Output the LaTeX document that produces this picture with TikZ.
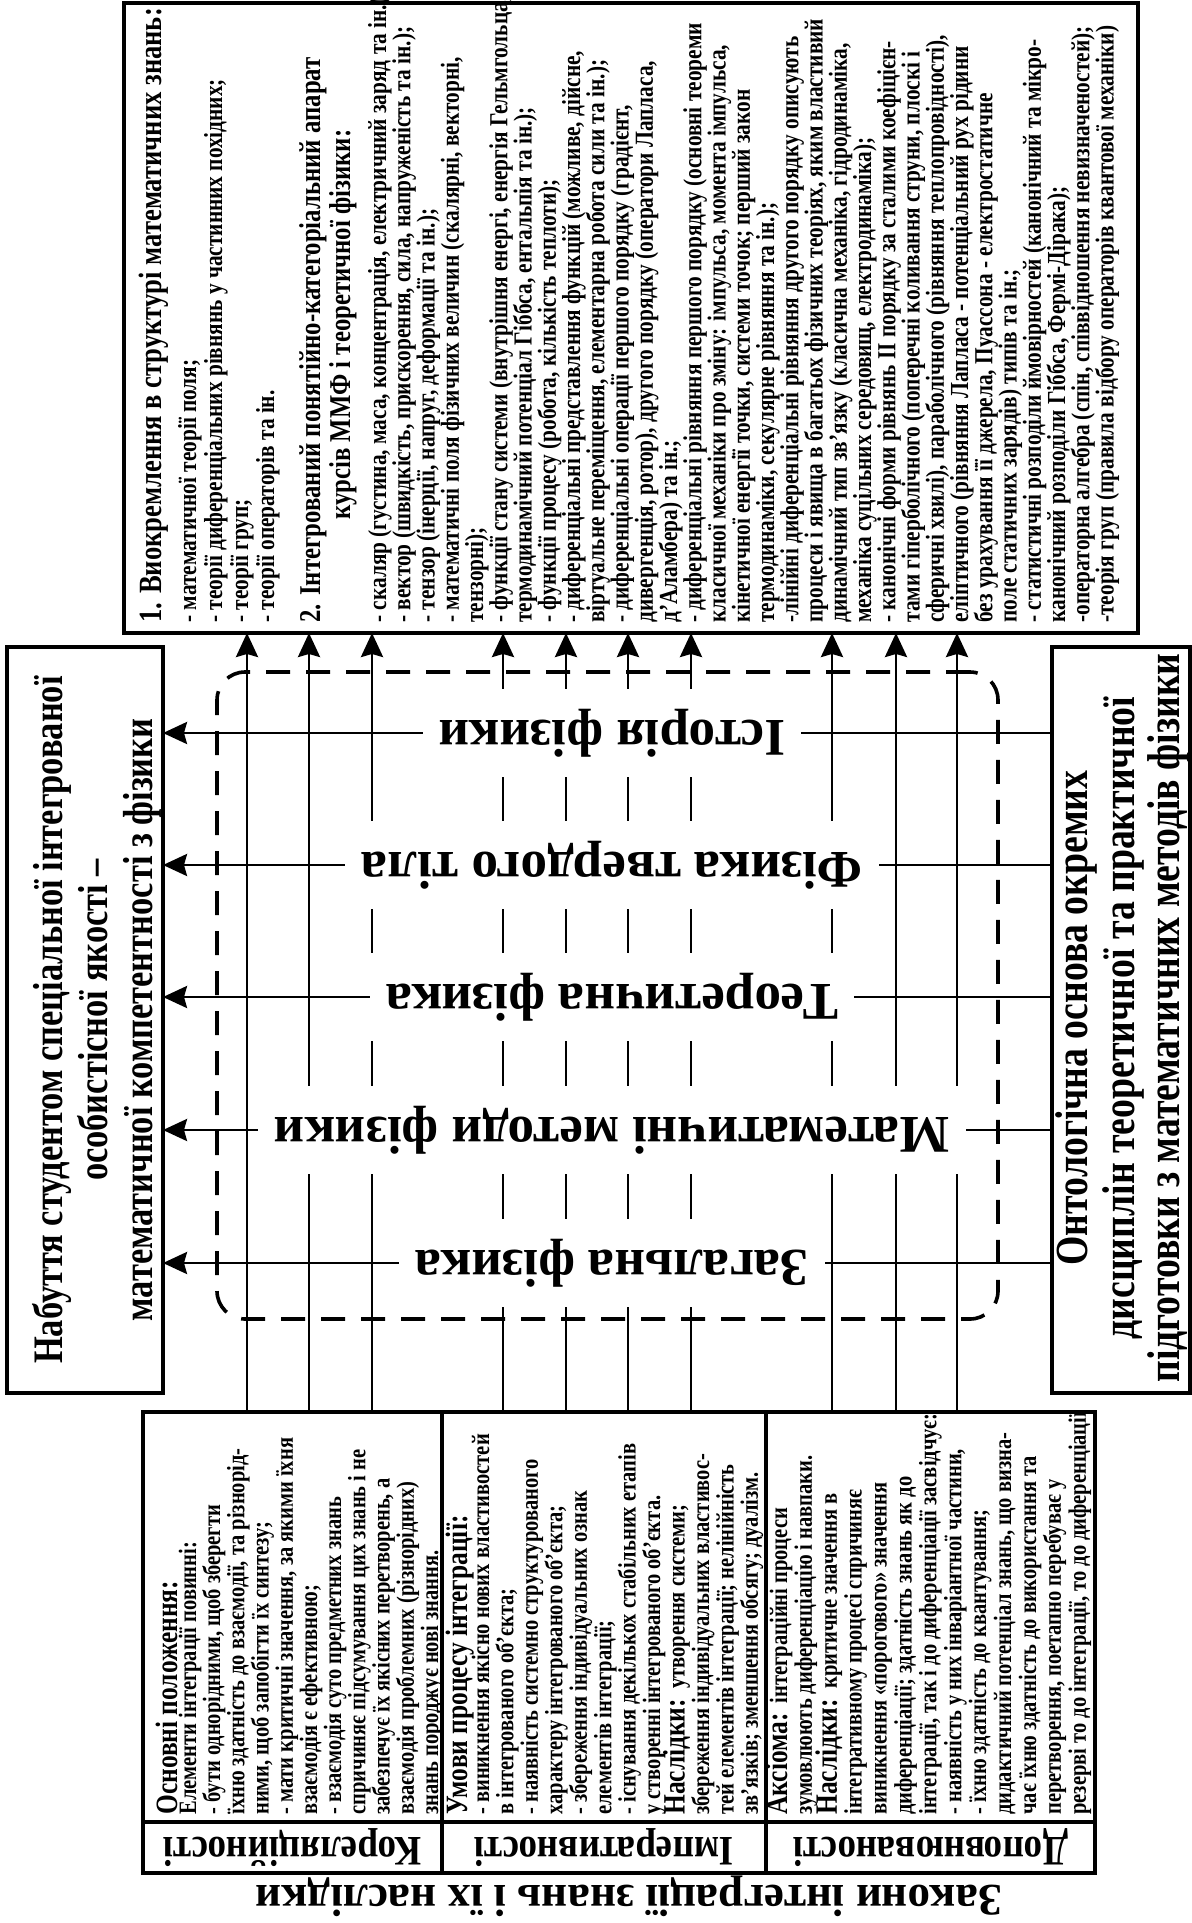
\documentclass[tikz,border=0pt]{standalone}
\usepackage{fontspec}
\setmainfont{Liberation Serif}
\newfontfamily\rotf{Liberation Serif}[FakeStretch=0.82]
\newfontfamily\labf{Liberation Serif}[FakeStretch=0.88]
\usetikzlibrary{arrows.meta,fit}
\newcommand\bigw[1]{{\fontsize{15.5}{15.5}\selectfont #1}}
\begin{document}
\begin{tikzpicture}[x=0.5pt,y=-0.5pt,
  box/.style={draw, line width=2pt, inner sep=0pt, outer sep=0pt},
  tline/.style={line width=1.8pt},
  arr/.style={line width=1.4pt, -{Stealth[length=12pt,width=11pt,inset=1.5pt]}},
  dsh/.style={draw, line width=1.8pt, dash pattern=on 12pt off 8pt, rounded corners=14pt, inner sep=0pt, outer sep=0pt},
  sm/.style={rotate=90, anchor=base west, inner sep=0pt, font=\rotf\bfseries\fontsize{12.5}{12.5}\selectfont},
  smt/.style={rotate=90, anchor=base west, inner sep=0pt, font=\rotf\bfseries\fontsize{13}{13}\selectfont},
  hda/.style={rotate=90, anchor=base west, inner sep=0pt, font=\rotf\bfseries\fontsize{16.2}{16.2}\selectfont},
  hdt/.style={rotate=90, anchor=base west, inner sep=0pt, font=\rotf\bfseries\fontsize{15.1}{15.1}\selectfont},
  hdc/.style={rotate=90, anchor=base west, inner sep=0pt, font=\rotf\bfseries\fontsize{15.5}{15.5}\selectfont},
  nabt/.style={rotate=90, anchor=base, inner sep=0pt, font=\rotf\bfseries\fontsize{21}{21}\selectfont},
  ontt/.style={rotate=90, anchor=base, inner sep=0pt, font=\rotf\bfseries\fontsize{23}{23}\selectfont},
  lab/.style={rotate=180, inner sep=0pt, font=\labf\bfseries\fontsize{21}{21}\selectfont},
  ctr/.style={rotate=180, fill=white, inner xsep=8pt, inner ysep=10pt, font=\bfseries\fontsize{26.5}{26.5}\selectfont},
  captxt/.style={rotate=180, inner sep=0pt, font=\bfseries\fontsize{22.5}{22.5}\selectfont}
]
\fill[white] (0,0) rectangle (1192,1923);
\useasboundingbox (0,0) rectangle (1192,1923);

% boxes
\node[box, fit={(124,3) (1138,633)}] (top) {};
\node[box, fit={(7,647) (163,1393)}] (nab) {};
\node[box, fit={(1052,647) (1190,1393)}] (ont) {};
\node[box, fit={(143,1412) (1095,1873)}] (tbl) {};
\node[dsh, fit={(217,672) (998,1319)}] (frame) {};

% table dividers
\coordinate (d1) at (442,0);
\coordinate (d2) at (766,0);
\coordinate (hs) at (0,1822);
\draw[tline] (tbl.north -| d1) -- (tbl.south -| d1);
\draw[tline] (tbl.north -| d2) -- (tbl.south -| d2);
\draw[tline] (tbl.west |- hs) -- (tbl.east |- hs);

% vertical arrows
\foreach \xx [count=\k] in {247,309,372,503,566,628,691,832,896,957} {
  \coordinate (va\k) at (\xx,0);
  \draw[arr] (tbl.north -| va\k) -- (top.south -| va\k);
}
% horizontal arrows
\foreach \yy [count=\k] in {733,865,997,1130,1263} {
  \coordinate (ha\k) at (0,\yy);
  \draw[arr] (ont.west |- ha\k) -- (nab.east |- ha\k);
}

% centre labels
\node[ctr] (l1) at (612,733) {Історія фізики};
\node[ctr] (l2) at (612,865) {Фізика твердого тіла};
\node[ctr] (l3) at (612,997) {Теоретична фізика};
\node[ctr] (l4) at (612,1130) {Математичні методи фізики};
\node[ctr] (l5) at (612,1263) {Загальна фізика};

% left box
\node[nabt] (n1) at (62,1020) {Набуття студентом спеціальної інтегрованої};
\node[nabt] (n2) at (107,1020) {особистісної якості –};
\node[nabt] (n3) at (152,1020) {математичної компетентності з фізики};

% right box
\node[ontt] (o1) at (1087,1018) {Онтологічна основа окремих};
\node[ontt] (o2) at (1134,1018) {дисциплін теоретичної та практичної};
\node[ontt] (o3) at (1179,1018) {підготовки з математичних методів фізики};

% top box text
\node[hda] (h1) at (161,623) {1. Виокремлення в структурі математичних знань:};
\foreach \t [count=\i] in {
  {- математичної теорії поля;},
  {- теорії диференціальних рівнянь у частинних похідних;},
  {- теорії груп;},
  {- теорії операторів та ін.}} {
  \node[smt] (a\i) at ({196+(\i-1)*26},623) {\t};
}
\node[hdt] (h2) at (320,623) {2. Інтегрований понятійно-категоріальний апарат};
\node[hdt] (h2b) at (350,520) {курсів ММФ і теоретичної фізики:};
\foreach \t [count=\i] in {
  {- скаляр (густина, маса, концентрація, електричний заряд та ін.)},
  {- вектор (швидкість, прискорення, сила, напруженість та ін.);},
  {- тензор (інерції, напруг, деформації та ін.);},
  {- математичні поля фізичних величин (скалярні, векторні,},
  {тензорні);},
  {- функції стану системи (внутрішня енергі, енергія Гельмгольца,},
  {термодинамічний потенціал Гіббса, ентальпія та ін.);},
  {- функції процесу (робота, кількість теплоти);},
  {- диференціальні представлення функцій (можливе, дійсне,},
  {віртуальне переміщення, елементарна робота сили та ін.);},
  {- диференціальні операції першого порядку (градієнт,},
  {дивергенція, ротор), другого порядку (оператори Лапласа,},
  {д’Аламбера) та ін.;},
  {- диференціальні рівняння першого порядку (основні теореми},
  {класичної механіки про зміну: імпульса, момента імпульса,},
  {кінетичної енергії точки, системи точок; перший закон},
  {термодинаміки, секулярне рівняння та ін.);},
  {-лінійні диференціальні рівняння другого порядку описують},
  {процеси і явища в багатьох фізичних теоріях, яким властивий},
  {динамічний тип зв’язку (класична механіка, гідродинаміка,},
  {механіка суцільних середовищ, електродинаміка);},
  {- канонічні форми рівнянь II порядку за сталими коефіцієн-},
  {тами гіперболічного (поперечні коливання струни, плоскі і},
  {сферичні хвилі), параболічного (рівняння теплопровідності),},
  {еліптичного (рівняння Лапласа - потенціальний рух рідини},
  {без урахування її джерела, Пуассона - електростатичне},
  {поле статичних зарядів) типів та ін.;},
  {- статистичні розподіли ймовірностей (канонічний та мікро-},
  {канонічний розподіли Гіббса, Фермі-Дірака);},
  {-операторна алгебра (спін, співвідношення невизначеностей);},
  {-теорія груп (правила відбору операторів квантової механіки)}} {
  \node[smt] (b\i) at ({386+(\i-1)*24.25},623) {\t};
}

% table: correlation
\node[hdc] (kh) at (177,1815) {Основні положення:};
\foreach \t [count=\i] in {
  {Елементи інтеграції повинні:},
  {- бути однорідними, щоб зберегти},
  {їхню здатність до взаємодії, та різнорід-},
  {ними, щоб запобігти їх синтезу;},
  {- мати критичні значення, за якими їхня},
  {взаємодія є ефективною;},
  {- взаємодія суто предметних знань},
  {спричиняє підсумування цих знань і не},
  {забезпечує їх якісних перетворень, а},
  {взаємодія проблемних (різнорідних)},
  {знань породжує нові знання.}} {
  \node[sm] (k\i) at ({196+(\i-1)*24.2},1815) {\t};
}
% table: imperative
\node[hdc] (mh) at (467,1815) {Умови процесу інтеграції:};
\foreach \t [count=\i] in {
  {- виникнення якісно нових властивостей},
  {в інтегрованого об’єкта;},
  {- наявність системно структурованого},
  {характеру інтегрованого об’єкта;},
  {- збереження індивідуальних ознак},
  {елементів інтеграції;},
  {- існування декількох стабільних етапів},
  {у створенні інтегрованого об’єкта.},
  {\bigw{Наслідки:}\ \ утворення системи;},
  {збереження індивідуальних властивос-},
  {тей елементів інтеграції; нелінійність},
  {зв’язків; зменшення обсягу; дуалізм.}} {
  \node[sm] (m\i) at ({489+(\i-1)*24.45},1815) {\t};
}
% table: complementarity
\foreach \t [count=\i] in {
  {\bigw{Аксіома:}\ \ інтеграційні процеси},
  {зумовлюють диференціацію і навпаки.},
  {\bigw{Наслідки:}\ \ критичне значення в},
  {інтегративному процесі спричиняє},
  {виникнення «порогового» значення},
  {диференціації; здатність знань як до},
  {інтеграції, так і до диференціації засвідчує:},
  {- наявність у них інваріантної частини,},
  {- їхню здатність до квантування;},
  {дидактичний потенціал знань, що визна-},
  {чає їхню здатність до використання та},
  {перетворення, поетапно перебуває у},
  {резерві то до інтеграції, то до диференціації}} {
  \node[sm] (p\i) at ({787+(\i-1)*24.9},1815) {\t};
}

% law labels
\node[lab] (c1) at (292.5,1848) {Кореляційності};
\node[lab] (c2) at (604,1848) {Імперативності};
\node[lab] (c3) at (930.5,1848) {Доповнюваності};

\node[captxt] (cap) at (629,1896) {Закони інтеграції знань і їх наслідки};
\end{tikzpicture}
\end{document}
